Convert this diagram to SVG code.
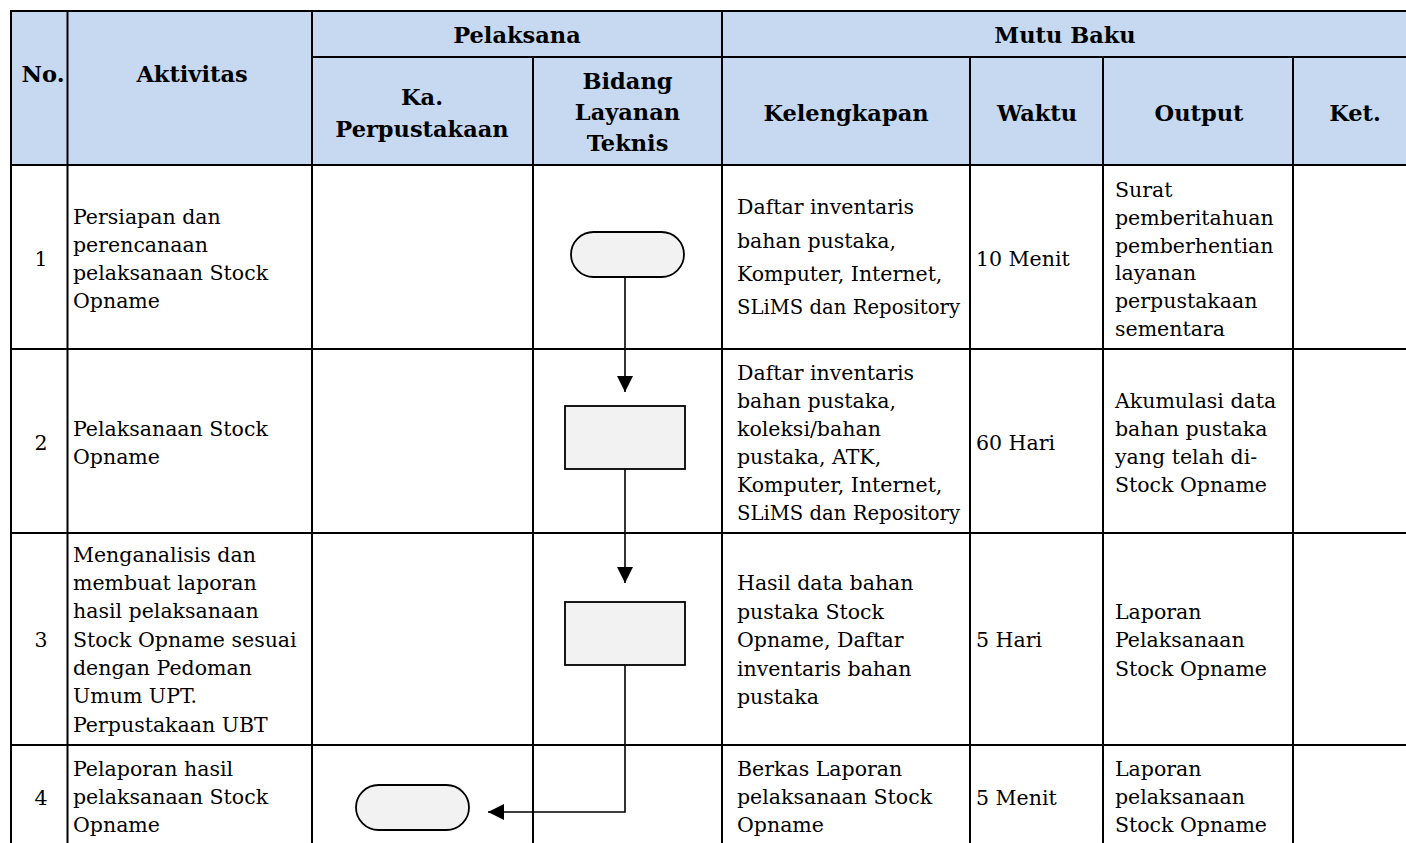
<svg xmlns="http://www.w3.org/2000/svg" width="1406" height="843" viewBox="0 0 1406 843">
<defs>
<style>
.h{font-family:"DejaVu Serif","Liberation Serif",serif;font-weight:bold;font-size:22.5px;fill:#000;text-anchor:middle}
.t{font-family:"DejaVu Serif","Liberation Serif",serif;font-size:20.5px;fill:#000}
.c{text-anchor:middle}
.g{stroke:#000;stroke-width:2;fill:none}
.s{fill:#F2F2F2;stroke:#000;stroke-width:1.8}
.k{stroke:#000;stroke-width:1.6;fill:none}
</style>
<marker id="ah" viewBox="0 0 16 16" refX="16" refY="8" markerWidth="16" markerHeight="16" markerUnits="userSpaceOnUse" orient="auto">
<path d="M0,0 L16,8 L0,16 Z" fill="#000"/>
</marker>
</defs>
<rect width="1406" height="843" fill="#fff"/>
<g id="table">
<rect x="11" y="11" width="1400" height="154" fill="#C6D9F1"/>
<path class="g" d="M11,843 V11 H1406 M312,57 H1406 M11,165 H1406 M11,349 H1406 M11,533 H1406 M11,745 H1406 M67.5,11 V843 M312,11 V843 M722,11 V843 M533,57 V843 M970,57 V843 M1103,57 V843 M1293,57 V843"/>
</g>
<g id="header">
<text class="h" x="43" y="82">No.</text>
<text class="h" x="192" y="82">Aktivitas</text>
<text class="h" x="517" y="43">Pelaksana</text>
<text class="h" x="1065" y="43">Mutu Baku</text>
<text class="h" x="422" y="105">Ka.</text>
<text class="h" x="422" y="137">Perpustakaan</text>
<text class="h" x="627.5" y="89">Bidang</text>
<text class="h" x="627.5" y="120">Layanan</text>
<text class="h" x="627.5" y="151">Teknis</text>
<text class="h" x="846" y="121">Kelengkapan</text>
<text class="h" x="1037" y="121">Waktu</text>
<text class="h" x="1199" y="121">Output</text>
<text class="h" x="1355" y="121">Ket.</text>
</g>
<g id="row1">
<text class="t c" x="41" y="266">1</text>
<text class="t" x="73"><tspan x="73" y="224">Persiapan dan</tspan><tspan x="73" y="252">perencanaan</tspan><tspan x="73" y="280">pelaksanaan Stock</tspan><tspan x="73" y="308">Opname</tspan></text>
<text class="t" x="737"><tspan x="737" y="214">Daftar inventaris</tspan><tspan x="737" y="248">bahan pustaka,</tspan><tspan x="737" y="281">Komputer, Internet,</tspan></text>
<text class="t" x="737" y="314" textLength="223" lengthAdjust="spacingAndGlyphs">SLiMS dan Repository</text>
<text class="t" x="976" y="266">10 Menit</text>
<text class="t" x="1115"><tspan x="1115" y="197">Surat</tspan><tspan x="1115" y="225">pemberitahuan</tspan><tspan x="1115" y="253">pemberhentian</tspan><tspan x="1115" y="280">layanan</tspan><tspan x="1115" y="308">perpustakaan</tspan><tspan x="1115" y="336">sementara</tspan></text>
</g>
<g id="row2">
<text class="t c" x="41" y="450">2</text>
<text class="t" x="73"><tspan x="73" y="436">Pelaksanaan Stock</tspan><tspan x="73" y="464">Opname</tspan></text>
<text class="t" x="737"><tspan x="737" y="380">Daftar inventaris</tspan><tspan x="737" y="408">bahan pustaka,</tspan><tspan x="737" y="436">koleksi/bahan</tspan><tspan x="737" y="464">pustaka, ATK,</tspan><tspan x="737" y="492">Komputer, Internet,</tspan></text>
<text class="t" x="737" y="520" textLength="223" lengthAdjust="spacingAndGlyphs">SLiMS dan Repository</text>
<text class="t" x="976" y="450">60 Hari</text>
<text class="t" x="1115"><tspan x="1115" y="408">Akumulasi data</tspan><tspan x="1115" y="436">bahan pustaka</tspan><tspan x="1115" y="464">yang telah di-</tspan><tspan x="1115" y="492">Stock Opname</tspan></text>
</g>
<g id="row3">
<text class="t c" x="41" y="647">3</text>
<text class="t" x="73"><tspan x="73" y="562">Menganalisis dan</tspan><tspan x="73" y="590">membuat laporan</tspan><tspan x="73" y="618">hasil pelaksanaan</tspan><tspan x="73" y="647">Stock Opname sesuai</tspan><tspan x="73" y="675">dengan Pedoman</tspan><tspan x="73" y="703">Umum UPT.</tspan><tspan x="73" y="732">Perpustakaan UBT</tspan></text>
<text class="t" x="737"><tspan x="737" y="590">Hasil data bahan</tspan><tspan x="737" y="619">pustaka Stock</tspan><tspan x="737" y="647">Opname, Daftar</tspan><tspan x="737" y="676">inventaris bahan</tspan><tspan x="737" y="704">pustaka</tspan></text>
<text class="t" x="976" y="647">5 Hari</text>
<text class="t" x="1115"><tspan x="1115" y="619">Laporan</tspan><tspan x="1115" y="647">Pelaksanaan</tspan><tspan x="1115" y="676">Stock Opname</tspan></text>
</g>
<g id="row4">
<text class="t c" x="41" y="805">4</text>
<text class="t" x="73"><tspan x="73" y="776">Pelaporan hasil</tspan><tspan x="73" y="804">pelaksanaan Stock</tspan><tspan x="73" y="832">Opname</tspan></text>
<text class="t" x="737"><tspan x="737" y="776">Berkas Laporan</tspan><tspan x="737" y="804">pelaksanaan Stock</tspan><tspan x="737" y="832">Opname</tspan></text>
<text class="t" x="976" y="805">5 Menit</text>
<text class="t" x="1115"><tspan x="1115" y="776">Laporan</tspan><tspan x="1115" y="804">pelaksanaan</tspan><tspan x="1115" y="832">Stock Opname</tspan></text>
</g>
<g id="start"><rect class="s" x="571" y="232" width="113" height="45" rx="22.5"/></g>
<g id="step2"><rect class="s" x="565" y="406" width="120" height="63"/></g>
<g id="step3"><rect class="s" x="565" y="602" width="120" height="63"/></g>
<g id="end"><rect class="s" x="356" y="785" width="113" height="45" rx="22.5"/></g>
<g id="connectors">
<path class="k" d="M625,277 V392" marker-end="url(#ah)"/>
<path class="k" d="M625,469 V583" marker-end="url(#ah)"/>
<path class="k" d="M625,665 V812 H488" marker-end="url(#ah)"/>
</g>
</svg>
